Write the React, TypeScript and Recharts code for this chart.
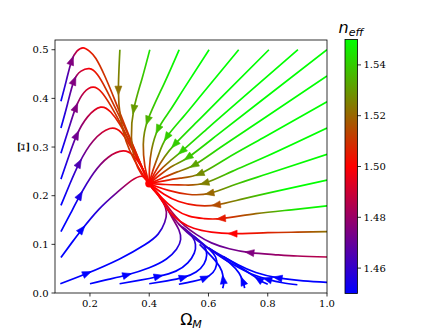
import { ComposedChart, Line, Scatter, XAxis, YAxis } from 'recharts';

// each point: [Omega_M, Xi, n_eff]
type Pt = [number, number, number];

const X_TICKS = [0.2, 0.4, 0.6, 0.8, 1.0];
const Y_TICKS = [0, 0.1, 0.2, 0.3, 0.4, 0.5];
const CBAR_TICKS = [1.46, 1.48, 1.5, 1.52, 1.54];
const N_MIN = 1.45;
const N_MAX = 1.55;
const FIXED_POINT = [{ x: 0.4, y: 0.225 }];

// left family: start near the y axis, rise, bend over into the attractor
const ARC_1: Pt[] = [[0.102, 0.394, 1.45], [0.120, 0.436, 1.462], [0.138, 0.477, 1.475], [0.156, 0.497, 1.488], [0.177, 0.504, 1.5], [0.198, 0.497, 1.505], [0.220, 0.482, 1.508], [0.250, 0.446, 1.51], [0.285, 0.395, 1.51], [0.320, 0.341, 1.51], [0.355, 0.289, 1.507], [0.385, 0.245, 1.502], [0.400, 0.225, 1.5]];
const ARC_2: Pt[] = [[0.102, 0.339, 1.45], [0.124, 0.388, 1.462], [0.146, 0.436, 1.475], [0.170, 0.456, 1.49], [0.198, 0.461, 1.5], [0.225, 0.449, 1.505], [0.255, 0.418, 1.51], [0.285, 0.381, 1.51], [0.320, 0.337, 1.51], [0.355, 0.288, 1.507], [0.385, 0.245, 1.502], [0.400, 0.225, 1.5]];
const ARC_3: Pt[] = [[0.102, 0.287, 1.45], [0.127, 0.335, 1.462], [0.152, 0.381, 1.475], [0.180, 0.412, 1.488], [0.211, 0.423, 1.498], [0.240, 0.412, 1.505], [0.270, 0.385, 1.51], [0.300, 0.352, 1.51], [0.330, 0.316, 1.51], [0.360, 0.279, 1.506], [0.386, 0.244, 1.502], [0.400, 0.225, 1.5]];
const ARC_4: Pt[] = [[0.102, 0.234, 1.45], [0.128, 0.280, 1.46], [0.155, 0.324, 1.472], [0.192, 0.362, 1.485], [0.236, 0.382, 1.497], [0.270, 0.372, 1.503], [0.300, 0.347, 1.508], [0.330, 0.314, 1.51], [0.360, 0.278, 1.506], [0.386, 0.244, 1.502], [0.400, 0.225, 1.5]];
const ARC_5: Pt[] = [[0.102, 0.180, 1.45], [0.132, 0.224, 1.455], [0.163, 0.266, 1.465], [0.210, 0.312, 1.48], [0.267, 0.338, 1.495], [0.305, 0.330, 1.503], [0.335, 0.303, 1.507], [0.362, 0.273, 1.505], [0.387, 0.242, 1.501], [0.400, 0.225, 1.5]];
const ARC_6: Pt[] = [[0.102, 0.126, 1.45], [0.134, 0.163, 1.45], [0.166, 0.200, 1.455], [0.212, 0.246, 1.468], [0.262, 0.279, 1.483], [0.312, 0.292, 1.495], [0.347, 0.282, 1.5], [0.372, 0.261, 1.503], [0.390, 0.240, 1.501], [0.400, 0.225, 1.5]];
const ARC_7: Pt[] = [[0.102, 0.073, 1.45], [0.137, 0.102, 1.45], [0.172, 0.130, 1.45], [0.230, 0.172, 1.458], [0.290, 0.206, 1.472], [0.340, 0.231, 1.487], [0.374, 0.240, 1.495], [0.392, 0.234, 1.499], [0.400, 0.225, 1.5]];

// bottom family: run right along the axis, hook up into the lower branch
const J_A: Pt[] = [[0.100, 0.019, 1.45], [0.189, 0.040, 1.45], [0.300, 0.070, 1.45], [0.385, 0.099, 1.45], [0.430, 0.121, 1.455], [0.452, 0.145, 1.465], [0.458, 0.166, 1.477], [0.448, 0.186, 1.488], [0.430, 0.203, 1.495], [0.412, 0.215, 1.499], [0.400, 0.225, 1.5]];
const J_B: Pt[] = [[0.200, 0.019, 1.45], [0.262, 0.028, 1.45], [0.324, 0.037, 1.45], [0.400, 0.052, 1.45], [0.458, 0.070, 1.45], [0.492, 0.090, 1.455], [0.506, 0.110, 1.462], [0.500, 0.130, 1.47], [0.482, 0.150, 1.478], [0.462, 0.172, 1.486], [0.436, 0.198, 1.493], [0.412, 0.214, 1.498], [0.400, 0.225, 1.5]];
const J_C: Pt[] = [[0.300, 0.019, 1.45], [0.365, 0.026, 1.45], [0.430, 0.034, 1.45], [0.490, 0.045, 1.45], [0.530, 0.062, 1.45], [0.552, 0.082, 1.452], [0.556, 0.100, 1.456], [0.545, 0.116, 1.462], [0.522, 0.130, 1.468], [0.498, 0.142, 1.473]];
const J_D: Pt[] = [[0.400, 0.019, 1.45], [0.460, 0.025, 1.45], [0.515, 0.032, 1.45], [0.558, 0.043, 1.45], [0.585, 0.060, 1.45], [0.594, 0.078, 1.45], [0.588, 0.094, 1.452], [0.567, 0.108, 1.457], [0.540, 0.122, 1.463], [0.512, 0.136, 1.47]];
const J_E: Pt[] = [[0.500, 0.018, 1.45], [0.548, 0.024, 1.45], [0.588, 0.031, 1.45], [0.615, 0.042, 1.45], [0.627, 0.058, 1.45], [0.624, 0.074, 1.45], [0.606, 0.088, 1.452], [0.580, 0.102, 1.455], [0.550, 0.117, 1.46]];
const J_F: Pt[] = [[0.648, 0.010, 1.45], [0.651, 0.018, 1.45], [0.650, 0.027, 1.45], [0.645, 0.045, 1.45], [0.625, 0.065, 1.45], [0.598, 0.083, 1.452], [0.570, 0.100, 1.456]];
const J_G: Pt[] = [[0.722, 0.010, 1.45], [0.720, 0.016, 1.45], [0.716, 0.024, 1.45], [0.703, 0.041, 1.45], [0.675, 0.060, 1.45], [0.635, 0.078, 1.452], [0.600, 0.093, 1.455]];
const J_H: Pt[] = [[0.800, 0.018, 1.45], [0.785, 0.022, 1.45], [0.770, 0.028, 1.45], [0.740, 0.040, 1.45], [0.700, 0.056, 1.45], [0.650, 0.075, 1.452]];

// right edge family
const R_10: Pt[] = [[0.900, 0.017, 1.45], [0.850, 0.021, 1.45], [0.800, 0.028, 1.45], [0.750, 0.038, 1.45], [0.700, 0.053, 1.45], [0.650, 0.071, 1.452], [0.605, 0.090, 1.455]];
const R_9: Pt[] = [[1.000, 0.022, 1.45], [0.920, 0.025, 1.45], [0.835, 0.031, 1.45], [0.760, 0.042, 1.45], [0.700, 0.058, 1.45], [0.640, 0.078, 1.452], [0.590, 0.096, 1.456], [0.545, 0.116, 1.463], [0.510, 0.135, 1.472], [0.480, 0.156, 1.48], [0.456, 0.178, 1.488], [0.432, 0.200, 1.495], [0.412, 0.214, 1.499], [0.400, 0.225, 1.5]];
const R_8: Pt[] = [[1.000, 0.074, 1.486], [0.900, 0.076, 1.483], [0.820, 0.079, 1.479], [0.740, 0.083, 1.475], [0.670, 0.091, 1.472], [0.610, 0.103, 1.47], [0.560, 0.120, 1.472], [0.520, 0.138, 1.477], [0.488, 0.158, 1.483], [0.460, 0.180, 1.49], [0.432, 0.203, 1.497], [0.400, 0.225, 1.5]];
const R_7: Pt[] = [[1.000, 0.126, 1.522], [0.900, 0.125, 1.513], [0.800, 0.124, 1.506], [0.683, 0.122, 1.5], [0.610, 0.125, 1.499], [0.550, 0.133, 1.498], [0.505, 0.147, 1.498], [0.470, 0.166, 1.498], [0.440, 0.192, 1.499], [0.400, 0.225, 1.5]];
const R_6: Pt[] = [[1.000, 0.179, 1.55], [0.880, 0.171, 1.545], [0.760, 0.163, 1.52], [0.644, 0.153, 1.505], [0.585, 0.153, 1.501], [0.535, 0.158, 1.5], [0.485, 0.173, 1.5], [0.440, 0.197, 1.5], [0.400, 0.225, 1.5]];
const R_5: Pt[] = [[1.000, 0.232, 1.55], [0.850, 0.212, 1.55], [0.720, 0.194, 1.53], [0.627, 0.181, 1.515], [0.560, 0.180, 1.505], [0.500, 0.188, 1.501], [0.450, 0.203, 1.5], [0.400, 0.225, 1.5]];
const R_4: Pt[] = [[1.000, 0.285, 1.55], [0.800, 0.245, 1.548], [0.690, 0.223, 1.535], [0.605, 0.205, 1.52], [0.530, 0.203, 1.51], [0.465, 0.211, 1.503], [0.425, 0.219, 1.5], [0.400, 0.225, 1.5]];
const R_3: Pt[] = [[1.000, 0.339, 1.55], [0.800, 0.282, 1.55], [0.680, 0.250, 1.54], [0.588, 0.226, 1.525], [0.520, 0.222, 1.512], [0.455, 0.223, 1.503], [0.400, 0.225, 1.5]];
const R_2: Pt[] = [[1.000, 0.393, 1.55], [0.785, 0.319, 1.55], [0.660, 0.276, 1.543], [0.571, 0.245, 1.527], [0.505, 0.236, 1.513], [0.445, 0.230, 1.503], [0.400, 0.225, 1.5]];
const R_1: Pt[] = [[1.000, 0.446, 1.55], [0.775, 0.354, 1.55], [0.640, 0.299, 1.545], [0.552, 0.263, 1.532], [0.495, 0.249, 1.518], [0.443, 0.236, 1.505], [0.400, 0.225, 1.5]];

// top edge family
const T_8: Pt[] = [[1.000, 0.500, 1.55], [0.765, 0.389, 1.55], [0.630, 0.325, 1.547], [0.532, 0.279, 1.538], [0.482, 0.262, 1.523], [0.437, 0.243, 1.508], [0.400, 0.225, 1.5]];
const T_7: Pt[] = [[0.902, 0.500, 1.55], [0.705, 0.396, 1.55], [0.600, 0.340, 1.547], [0.511, 0.292, 1.54], [0.468, 0.270, 1.525], [0.430, 0.248, 1.508], [0.400, 0.225, 1.5]];
const T_6: Pt[] = [[0.804, 0.500, 1.55], [0.645, 0.403, 1.55], [0.560, 0.351, 1.547], [0.487, 0.306, 1.54], [0.452, 0.280, 1.525], [0.423, 0.252, 1.508], [0.400, 0.225, 1.5]];
const T_5: Pt[] = [[0.702, 0.500, 1.55], [0.580, 0.410, 1.55], [0.515, 0.362, 1.547], [0.460, 0.321, 1.54], [0.432, 0.285, 1.524], [0.412, 0.251, 1.508], [0.400, 0.225, 1.5]];
const T_4: Pt[] = [[0.602, 0.500, 1.55], [0.515, 0.418, 1.55], [0.470, 0.375, 1.545], [0.430, 0.337, 1.538], [0.408, 0.294, 1.522], [0.401, 0.258, 1.508], [0.400, 0.225, 1.5]];
const T_3: Pt[] = [[0.501, 0.500, 1.55], [0.450, 0.430, 1.545], [0.395, 0.355, 1.535], [0.380, 0.305, 1.52], [0.385, 0.262, 1.508], [0.400, 0.225, 1.5]];
const T_2: Pt[] = [[0.402, 0.500, 1.545], [0.375, 0.439, 1.538], [0.348, 0.378, 1.53], [0.340, 0.320, 1.518], [0.352, 0.273, 1.51], [0.375, 0.243, 1.503], [0.400, 0.225, 1.5]];
const T_1: Pt[] = [[0.301, 0.500, 1.53], [0.296, 0.417, 1.522], [0.303, 0.360, 1.515], [0.322, 0.312, 1.512], [0.350, 0.273, 1.508], [0.378, 0.244, 1.503], [0.400, 0.225, 1.5]];

// [id, points, index of the arrow head]
const STREAMS: [string, Pt[], number][] = [
  ['arc1', ARC_1, 2], ['arc2', ARC_2, 2], ['arc3', ARC_3, 2], ['arc4', ARC_4, 2],
  ['arc5', ARC_5, 2], ['arc6', ARC_6, 2], ['arc7', ARC_7, 2],
  ['ja', J_A, 1], ['jb', J_B, 2], ['jc', J_C, 2], ['jd', J_D, 2], ['je', J_E, 2],
  ['jf', J_F, 2], ['jg', J_G, 2], ['jh', J_H, 2],
  ['r10', R_10, 2], ['r9', R_9, 2], ['r8', R_8, 3], ['r7', R_7, 3], ['r6', R_6, 3],
  ['r5', R_5, 3], ['r4', R_4, 3], ['r3', R_3, 3], ['r2', R_2, 3], ['r1', R_1, 3],
  ['t8', T_8, 3], ['t7', T_7, 3], ['t6', T_6, 3], ['t5', T_5, 3],
  ['t4', T_4, 3], ['t3', T_3, 2], ['t2', T_2, 2], ['t1', T_1, 1],
];

// layout
const W = 440;
const H = 330;
const M_TOP = 40;
const M_RIGHT = 113;
const X_AXIS_H = 37;
const Y_AXIS_W = 55;
const X_MIN = 0.082;
const X_MAX = 1.0;
const Y_MIN = 0;
const Y_MAX = 0.52;
const PLOT_W = W - M_RIGHT - Y_AXIS_W;
const PLOT_H = H - M_TOP - X_AXIS_H;
const KX = PLOT_W / (X_MAX - X_MIN);
const KY = PLOT_H / (Y_MAX - Y_MIN);

const CB_X = 345;
const CB_W = 12.5;
const CB_TOP = 39.5;
const CB_H = 254;

const SERIF = '"DejaVu Serif", serif';
const SANS = '"DejaVu Sans", sans-serif';

// matplotlib "brg": blue -> red -> green
function brg(n: number) {
  const t = Math.min(1, Math.max(0, (n - N_MIN) / (N_MAX - N_MIN)));
  const r = t < 0.5 ? 2 * t : 2 - 2 * t;
  const g = Math.max(0, 2 * t - 1);
  const b = Math.max(0, 1 - 2 * t);
  const c = (v: number) => Math.round(v * 255);
  return `rgb(${c(r)},${c(g)},${c(b)})`;
}

function isMono(a: number[]) {
  const up = a.every((v, i) => i === 0 || v >= a[i - 1]);
  const down = a.every((v, i) => i === 0 || v <= a[i - 1]);
  return up || down;
}

// colour runs along whichever coordinate the curve is monotonic in
function gradientFor(pts: Pt[]) {
  const xs = pts.map((p) => p[0]);
  const ys = pts.map((p) => p[1]);
  const xSpan = (Math.max(...xs) - Math.min(...xs)) * KX;
  const ySpan = (Math.max(...ys) - Math.min(...ys)) * KY;
  const useX = isMono(xs) && (!isMono(ys) || xSpan >= ySpan);
  const vals = useX ? xs : ys;
  const lo = Math.min(...vals);
  const hi = Math.max(...vals);
  const stops = pts
    .map((p) => {
      const v = useX ? p[0] : p[1];
      const off = useX ? (v - lo) / (hi - lo) : (hi - v) / (hi - lo);
      return { off, color: brg(p[2]) };
    })
    .sort((a, b) => a.off - b.off);
  return { useX, stops };
}

const ARROWS = STREAMS.map(([id, pts, k]) => {
  const p = pts[k];
  const a = pts[Math.max(0, k - 1)];
  const b = pts[Math.min(pts.length - 1, k + 1)];
  const ang = Math.atan2(-(b[1] - a[1]) * KY, (b[0] - a[0]) * KX);
  return { id, x: p[0], y: p[1], ang, color: brg(p[2]) };
});

function ArrowHead(props: any) {
  const { cx, cy, payload } = props;
  if (cx == null || cy == null) return null;
  const c = Math.cos(payload.ang);
  const s = Math.sin(payload.ang);
  const L = 5;
  const B = 4;
  const HW = 3.5;
  const pts = [
    [cx + c * L, cy + s * L],
    [cx - c * B - s * HW, cy - s * B + c * HW],
    [cx - c * B + s * HW, cy - s * B - c * HW],
  ]
    .map((q) => q.join(','))
    .join(' ');
  return <polygon points={pts} fill={payload.color} stroke={payload.color} strokeWidth={0.6} />;
}

function FixedDot(props: any) {
  const { cx, cy } = props;
  if (cx == null || cy == null) return null;
  return <circle cx={cx} cy={cy} r={4} fill="#ff0000" />;
}

const tickStyle = { fontSize: 10, fontFamily: SERIF, fill: '#000' };

export default function App() {
  const grads = STREAMS.map(([id, pts]) => ({ id, ...gradientFor(pts) }));

  return (
    <div style={{ position: 'absolute', left: 0, top: 0, width: W, height: H, background: '#fff' }}>
      <ComposedChart
        width={W}
        height={H}
        margin={{ top: M_TOP, right: M_RIGHT, bottom: 0, left: 0 }}
      >
        <XAxis
          type="number"
          dataKey="x"
          domain={[X_MIN, X_MAX]}
          allowDataOverflow
          ticks={X_TICKS}
          interval={0}
          height={X_AXIS_H}
          tickFormatter={(v: number) => v.toFixed(1)}
          tick={tickStyle}
          tickSize={3.5}
          tickMargin={3}
          tickLine={{ stroke: '#000', strokeWidth: 0.8 }}
          axisLine={false}
        />
        <YAxis
          type="number"
          dataKey="y"
          domain={[Y_MIN, Y_MAX]}
          allowDataOverflow
          ticks={Y_TICKS}
          interval={0}
          width={Y_AXIS_W}
          tickFormatter={(v: number) => v.toFixed(1)}
          tick={tickStyle}
          tickSize={3.5}
          tickMargin={3}
          tickLine={{ stroke: '#000', strokeWidth: 0.8 }}
          axisLine={false}
        />
        {STREAMS.map(([id, pts]) => (
          <Line
            key={id}
            data={pts.map(([x, y]) => ({ x, y }))}
            dataKey="y"
            type="natural"
            stroke={`url(#g-${id})`}
            strokeWidth={1.7}
            dot={false}
            activeDot={false}
            legendType="none"
            isAnimationActive={false}
          />
        ))}
        <Scatter data={ARROWS} dataKey="y" shape={ArrowHead} isAnimationActive={false} legendType="none" />
        <Scatter data={FIXED_POINT} dataKey="y" shape={FixedDot} isAnimationActive={false} legendType="none" />
      </ComposedChart>

      <svg
        width={W}
        height={H}
        style={{ position: 'absolute', left: 0, top: 0, pointerEvents: 'none' }}
      >
        <defs>
          {grads.map((g) => (
            <linearGradient key={g.id} id={`g-${g.id}`} x1="0" y1="0" x2={g.useX ? '1' : '0'} y2={g.useX ? '0' : '1'}>
              {g.stops.map((s, i) => (
                <stop key={i} offset={s.off} stopColor={s.color} />
              ))}
            </linearGradient>
          ))}
          <linearGradient id="cbar" x1="0" y1="0" x2="0" y2="1">
            <stop offset="0" stopColor={brg(1.55)} />
            <stop offset="0.25" stopColor={brg(1.525)} />
            <stop offset="0.5" stopColor={brg(1.5)} />
            <stop offset="0.75" stopColor={brg(1.475)} />
            <stop offset="1" stopColor={brg(1.45)} />
          </linearGradient>
        </defs>

        {/* axes frame */}
        <rect x={Y_AXIS_W} y={M_TOP} width={PLOT_W} height={PLOT_H} fill="none" stroke="#000" strokeWidth={0.8} />

        {/* axis labels */}
        <text x={Y_AXIS_W + PLOT_W / 2} y={325} textAnchor="middle" fontFamily={SANS} fontSize={16} fill="#000">
          Ω<tspan fontSize={11} fontStyle="italic" dy={3}>M</tspan>
        </text>
        <text
          x={0}
          y={0}
          transform="translate(29,147) rotate(-90)"
          textAnchor="middle"
          fontFamily={SERIF}
          fontSize={15}
          fill="#000"
        >
          Ξ
        </text>

        {/* colour bar */}
        <rect x={CB_X} y={CB_TOP} width={CB_W} height={CB_H} fill="url(#cbar)" stroke="#000" strokeWidth={0.8} />
        {CBAR_TICKS.map((t) => {
          const y = CB_TOP + ((N_MAX - t) / (N_MAX - N_MIN)) * CB_H;
          return (
            <g key={t}>
              <line x1={CB_X + CB_W} x2={CB_X + CB_W + 3.5} y1={y} y2={y} stroke="#000" strokeWidth={0.8} />
              <text x={CB_X + CB_W + 6} y={y} dominantBaseline="central" fontFamily={SERIF} fontSize={10} fill="#000">
                {t.toFixed(2)}
              </text>
            </g>
          );
        })}
        <text x={351} y={33} textAnchor="middle" fontFamily={SANS} fontStyle="italic" fontSize={16} fill="#000">
          n<tspan fontSize={11} dy={3}>eff</tspan>
        </text>
      </svg>
    </div>
  );
}
